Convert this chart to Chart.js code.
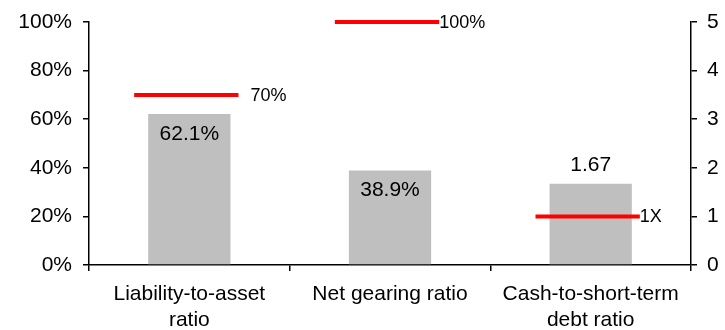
<!DOCTYPE html>
<html>
<head>
<meta charset="utf-8">
<script src="https://cdn.jsdelivr.net/npm/chart.js@4/dist/chart.umd.min.js"></script>
<style>
  html, body { margin: 0; padding: 0; background: #fff; }
  #wrap { width: 725px; height: 330px; position: relative; }
</style>
</head>
<body>
<div id="wrap"><canvas id="c" width="725" height="330"></canvas></div>
<script>
// Categories and values
const categories = [["Liability-to-asset", "ratio"], "Net gearing ratio", ["Cash-to-short-term", "debt ratio"]];
const percentValues = [62.1, 38.9, null];      // left axis (%)
const multipleValues = [null, null, 1.67];     // right axis (times)
const valueLabels = ["62.1%", "38.9%", "1.67"];
const thresholdValues = [70, 100, 1];
const thresholdAxes = ["y", "y", "y1"];
const thresholdLabels = ["70%", "100%", "1X"];
const leftTicks = [0, 20, 40, 60, 80, 100];
const rightTicks = [0, 1, 2, 3, 4, 5];

const FONT = "'Liberation Sans', Arial, sans-serif";

// fixed axis footprints so the plot area stays put
function fixBox(w, h) {
  return s => {
    if (w != null) s.width = w;
    if (h != null) s.height = h;
    s.paddingLeft = s.paddingRight = s.paddingTop = s.paddingBottom = 0;
  };
}

// Red threshold lines with their labels, plus labels on the bars
const overlayPlugin = {
  id: "overlay",
  afterDatasetsDraw(chart) {
    const ctx = chart.ctx;
    const x = chart.scales.x;
    const catW = x.getPixelForValue(1) - x.getPixelForValue(0);
    ctx.save();
    // bar value labels
    categories.forEach((_, i) => {
      const dsIndex = percentValues[i] != null ? 0 : 1;
      const bar = chart.getDatasetMeta(dsIndex).data[i];
      ctx.font = "21px " + FONT;
      ctx.fillStyle = "#000";
      ctx.textAlign = "center";
      ctx.textBaseline = "middle";
      const y = dsIndex === 0 ? bar.y + 20 : bar.y - 19;
      ctx.fillText(valueLabels[i], bar.x, y);
    });
    // threshold lines
    thresholdValues.forEach((v, i) => {
      const cx = x.getPixelForValue(i) - 3;
      const half = catW * 0.26;
      const y = chart.scales[thresholdAxes[i]].getPixelForValue(v);
      ctx.strokeStyle = "#FF0000";
      ctx.lineWidth = 4;
      ctx.beginPath();
      ctx.moveTo(cx - half, y);
      ctx.lineTo(cx + half, y);
      ctx.stroke();
      ctx.font = "18px " + FONT;
      ctx.fillStyle = "#000";
      ctx.textAlign = "left";
      ctx.textBaseline = "middle";
      const gap = i === 0 ? 12 : 0;
      ctx.fillText(thresholdLabels[i], cx + half + gap, y + 1);
    });
    ctx.restore();
  }
};

new Chart(document.getElementById("c"), {
  type: "bar",
  data: {
    labels: categories,
    datasets: [
      { data: percentValues, yAxisID: "y", backgroundColor: "#BFBFBF", grouped: false,
        barPercentage: 0.41, categoryPercentage: 1 },
      { data: multipleValues, yAxisID: "y1", backgroundColor: "#BFBFBF", grouped: false,
        barPercentage: 0.41, categoryPercentage: 1 }
    ]
  },
  options: {
    responsive: false,
    animation: false,
    layout: { padding: { top: 22, left: 0, right: 0, bottom: 0 } },
    plugins: { legend: { display: false }, tooltip: { enabled: false } },
    scales: {
      x: {
        grid: { display: true, drawOnChartArea: false, drawTicks: true, tickLength: 6, color: "#000", lineWidth: 1.5 },
        border: { display: true, color: "#000", width: 1.5 },
        ticks: { color: "#000", font: { family: FONT, size: 21, lineHeight: 1.25 }, padding: 10, maxRotation: 0 },
        afterFit: fixBox(null, 65)
      },
      y: {
        position: "left",
        min: 0, max: 100,
        afterBuildTicks: s => { s.ticks = leftTicks.map(v => ({ value: v })); },
        grid: { display: true, drawOnChartArea: false, drawTicks: true, tickLength: 6, color: "#000", lineWidth: 1.5 },
        border: { display: true, color: "#000", width: 1.5 },
        ticks: { color: "#000", font: { family: FONT, size: 21 }, padding: 11, callback: v => v + "%" },
        afterFit: fixBox(89, null)
      },
      y1: {
        position: "right",
        min: 0, max: 5,
        afterBuildTicks: s => { s.ticks = rightTicks.map(v => ({ value: v })); },
        grid: { display: true, drawOnChartArea: false, drawTicks: true, tickLength: 6, color: "#000", lineWidth: 1.5 },
        border: { display: true, color: "#000", width: 1.5 },
        ticks: { color: "#000", font: { family: FONT, size: 21 }, padding: 10 },
        afterFit: fixBox(34, null)
      }
    }
  },
  plugins: [overlayPlugin]
});
</script>
</body>
</html>
